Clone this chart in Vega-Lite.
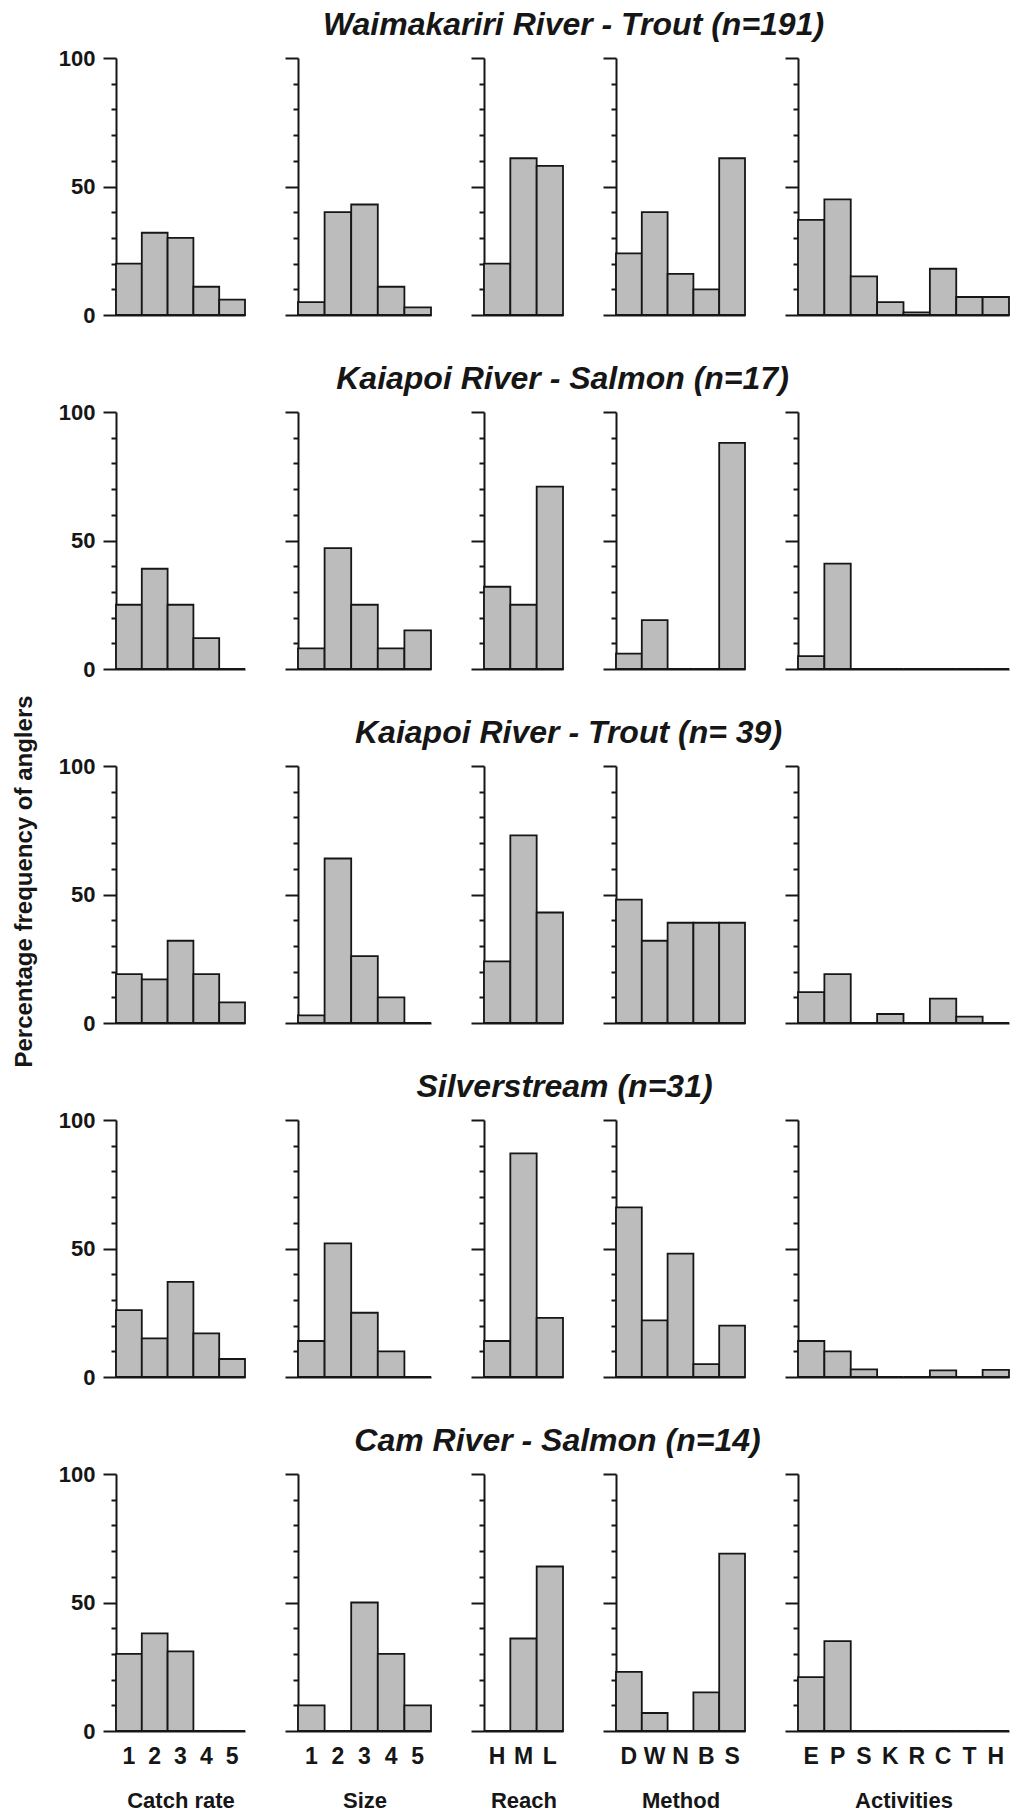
{
  "$schema": "https://vega.github.io/schema/vega-lite/v6.json",
  "background": "white",
  "padding": {"left": 12, "top": 9, "right": 2, "bottom": 2},
  "columns": 5,
  "align": "each",
  "bounds": "flush",
  "spacing": {"row": 97, "column": 53},
  "data": {"name": "freq"},
  "datasets": {
    "freq": [
      {"river": "Waimakariri", "variable": "Catch rate", "cat": "1", "pct": 20},
      {"river": "Waimakariri", "variable": "Catch rate", "cat": "2", "pct": 32},
      {"river": "Waimakariri", "variable": "Catch rate", "cat": "3", "pct": 30},
      {"river": "Waimakariri", "variable": "Catch rate", "cat": "4", "pct": 11},
      {"river": "Waimakariri", "variable": "Catch rate", "cat": "5", "pct": 6},
      {"river": "Waimakariri", "variable": "Size", "cat": "1", "pct": 5},
      {"river": "Waimakariri", "variable": "Size", "cat": "2", "pct": 40},
      {"river": "Waimakariri", "variable": "Size", "cat": "3", "pct": 43},
      {"river": "Waimakariri", "variable": "Size", "cat": "4", "pct": 11},
      {"river": "Waimakariri", "variable": "Size", "cat": "5", "pct": 3},
      {"river": "Waimakariri", "variable": "Reach", "cat": "H", "pct": 20},
      {"river": "Waimakariri", "variable": "Reach", "cat": "M", "pct": 61},
      {"river": "Waimakariri", "variable": "Reach", "cat": "L", "pct": 58},
      {"river": "Waimakariri", "variable": "Method", "cat": "D", "pct": 24},
      {"river": "Waimakariri", "variable": "Method", "cat": "W", "pct": 40},
      {"river": "Waimakariri", "variable": "Method", "cat": "N", "pct": 16},
      {"river": "Waimakariri", "variable": "Method", "cat": "B", "pct": 10},
      {"river": "Waimakariri", "variable": "Method", "cat": "S", "pct": 61},
      {"river": "Waimakariri", "variable": "Activities", "cat": "E", "pct": 37},
      {"river": "Waimakariri", "variable": "Activities", "cat": "P", "pct": 45},
      {"river": "Waimakariri", "variable": "Activities", "cat": "S", "pct": 15},
      {"river": "Waimakariri", "variable": "Activities", "cat": "K", "pct": 5},
      {"river": "Waimakariri", "variable": "Activities", "cat": "R", "pct": 1},
      {"river": "Waimakariri", "variable": "Activities", "cat": "C", "pct": 18},
      {"river": "Waimakariri", "variable": "Activities", "cat": "T", "pct": 7},
      {"river": "Waimakariri", "variable": "Activities", "cat": "H", "pct": 7},

      {"river": "Kaiapoi salmon", "variable": "Catch rate", "cat": "1", "pct": 25},
      {"river": "Kaiapoi salmon", "variable": "Catch rate", "cat": "2", "pct": 39},
      {"river": "Kaiapoi salmon", "variable": "Catch rate", "cat": "3", "pct": 25},
      {"river": "Kaiapoi salmon", "variable": "Catch rate", "cat": "4", "pct": 12},
      {"river": "Kaiapoi salmon", "variable": "Catch rate", "cat": "5", "pct": 0},
      {"river": "Kaiapoi salmon", "variable": "Size", "cat": "1", "pct": 8},
      {"river": "Kaiapoi salmon", "variable": "Size", "cat": "2", "pct": 47},
      {"river": "Kaiapoi salmon", "variable": "Size", "cat": "3", "pct": 25},
      {"river": "Kaiapoi salmon", "variable": "Size", "cat": "4", "pct": 8},
      {"river": "Kaiapoi salmon", "variable": "Size", "cat": "5", "pct": 15},
      {"river": "Kaiapoi salmon", "variable": "Reach", "cat": "H", "pct": 32},
      {"river": "Kaiapoi salmon", "variable": "Reach", "cat": "M", "pct": 25},
      {"river": "Kaiapoi salmon", "variable": "Reach", "cat": "L", "pct": 71},
      {"river": "Kaiapoi salmon", "variable": "Method", "cat": "D", "pct": 6},
      {"river": "Kaiapoi salmon", "variable": "Method", "cat": "W", "pct": 19},
      {"river": "Kaiapoi salmon", "variable": "Method", "cat": "N", "pct": 0},
      {"river": "Kaiapoi salmon", "variable": "Method", "cat": "B", "pct": 0},
      {"river": "Kaiapoi salmon", "variable": "Method", "cat": "S", "pct": 88},
      {"river": "Kaiapoi salmon", "variable": "Activities", "cat": "E", "pct": 5},
      {"river": "Kaiapoi salmon", "variable": "Activities", "cat": "P", "pct": 41},
      {"river": "Kaiapoi salmon", "variable": "Activities", "cat": "S", "pct": 0},
      {"river": "Kaiapoi salmon", "variable": "Activities", "cat": "K", "pct": 0},
      {"river": "Kaiapoi salmon", "variable": "Activities", "cat": "R", "pct": 0},
      {"river": "Kaiapoi salmon", "variable": "Activities", "cat": "C", "pct": 0},
      {"river": "Kaiapoi salmon", "variable": "Activities", "cat": "T", "pct": 0},
      {"river": "Kaiapoi salmon", "variable": "Activities", "cat": "H", "pct": 0},

      {"river": "Kaiapoi trout", "variable": "Catch rate", "cat": "1", "pct": 19},
      {"river": "Kaiapoi trout", "variable": "Catch rate", "cat": "2", "pct": 17},
      {"river": "Kaiapoi trout", "variable": "Catch rate", "cat": "3", "pct": 32},
      {"river": "Kaiapoi trout", "variable": "Catch rate", "cat": "4", "pct": 19},
      {"river": "Kaiapoi trout", "variable": "Catch rate", "cat": "5", "pct": 8},
      {"river": "Kaiapoi trout", "variable": "Size", "cat": "1", "pct": 3},
      {"river": "Kaiapoi trout", "variable": "Size", "cat": "2", "pct": 64},
      {"river": "Kaiapoi trout", "variable": "Size", "cat": "3", "pct": 26},
      {"river": "Kaiapoi trout", "variable": "Size", "cat": "4", "pct": 10},
      {"river": "Kaiapoi trout", "variable": "Size", "cat": "5", "pct": 0},
      {"river": "Kaiapoi trout", "variable": "Reach", "cat": "H", "pct": 24},
      {"river": "Kaiapoi trout", "variable": "Reach", "cat": "M", "pct": 73},
      {"river": "Kaiapoi trout", "variable": "Reach", "cat": "L", "pct": 43},
      {"river": "Kaiapoi trout", "variable": "Method", "cat": "D", "pct": 48},
      {"river": "Kaiapoi trout", "variable": "Method", "cat": "W", "pct": 32},
      {"river": "Kaiapoi trout", "variable": "Method", "cat": "N", "pct": 39},
      {"river": "Kaiapoi trout", "variable": "Method", "cat": "B", "pct": 39},
      {"river": "Kaiapoi trout", "variable": "Method", "cat": "S", "pct": 39},
      {"river": "Kaiapoi trout", "variable": "Activities", "cat": "E", "pct": 12},
      {"river": "Kaiapoi trout", "variable": "Activities", "cat": "P", "pct": 19},
      {"river": "Kaiapoi trout", "variable": "Activities", "cat": "S", "pct": 0},
      {"river": "Kaiapoi trout", "variable": "Activities", "cat": "K", "pct": 3.5},
      {"river": "Kaiapoi trout", "variable": "Activities", "cat": "R", "pct": 0},
      {"river": "Kaiapoi trout", "variable": "Activities", "cat": "C", "pct": 9.5},
      {"river": "Kaiapoi trout", "variable": "Activities", "cat": "T", "pct": 2.5},
      {"river": "Kaiapoi trout", "variable": "Activities", "cat": "H", "pct": 0},

      {"river": "Silverstream", "variable": "Catch rate", "cat": "1", "pct": 26},
      {"river": "Silverstream", "variable": "Catch rate", "cat": "2", "pct": 15},
      {"river": "Silverstream", "variable": "Catch rate", "cat": "3", "pct": 37},
      {"river": "Silverstream", "variable": "Catch rate", "cat": "4", "pct": 17},
      {"river": "Silverstream", "variable": "Catch rate", "cat": "5", "pct": 7},
      {"river": "Silverstream", "variable": "Size", "cat": "1", "pct": 14},
      {"river": "Silverstream", "variable": "Size", "cat": "2", "pct": 52},
      {"river": "Silverstream", "variable": "Size", "cat": "3", "pct": 25},
      {"river": "Silverstream", "variable": "Size", "cat": "4", "pct": 10},
      {"river": "Silverstream", "variable": "Size", "cat": "5", "pct": 0},
      {"river": "Silverstream", "variable": "Reach", "cat": "H", "pct": 14},
      {"river": "Silverstream", "variable": "Reach", "cat": "M", "pct": 87},
      {"river": "Silverstream", "variable": "Reach", "cat": "L", "pct": 23},
      {"river": "Silverstream", "variable": "Method", "cat": "D", "pct": 66},
      {"river": "Silverstream", "variable": "Method", "cat": "W", "pct": 22},
      {"river": "Silverstream", "variable": "Method", "cat": "N", "pct": 48},
      {"river": "Silverstream", "variable": "Method", "cat": "B", "pct": 5},
      {"river": "Silverstream", "variable": "Method", "cat": "S", "pct": 20},
      {"river": "Silverstream", "variable": "Activities", "cat": "E", "pct": 14},
      {"river": "Silverstream", "variable": "Activities", "cat": "P", "pct": 10},
      {"river": "Silverstream", "variable": "Activities", "cat": "S", "pct": 3},
      {"river": "Silverstream", "variable": "Activities", "cat": "K", "pct": 0},
      {"river": "Silverstream", "variable": "Activities", "cat": "R", "pct": 0},
      {"river": "Silverstream", "variable": "Activities", "cat": "C", "pct": 2.6},
      {"river": "Silverstream", "variable": "Activities", "cat": "T", "pct": 0},
      {"river": "Silverstream", "variable": "Activities", "cat": "H", "pct": 2.8},

      {"river": "Cam salmon", "variable": "Catch rate", "cat": "1", "pct": 30},
      {"river": "Cam salmon", "variable": "Catch rate", "cat": "2", "pct": 38},
      {"river": "Cam salmon", "variable": "Catch rate", "cat": "3", "pct": 31},
      {"river": "Cam salmon", "variable": "Catch rate", "cat": "4", "pct": 0},
      {"river": "Cam salmon", "variable": "Catch rate", "cat": "5", "pct": 0},
      {"river": "Cam salmon", "variable": "Size", "cat": "1", "pct": 10},
      {"river": "Cam salmon", "variable": "Size", "cat": "2", "pct": 0},
      {"river": "Cam salmon", "variable": "Size", "cat": "3", "pct": 50},
      {"river": "Cam salmon", "variable": "Size", "cat": "4", "pct": 30},
      {"river": "Cam salmon", "variable": "Size", "cat": "5", "pct": 10},
      {"river": "Cam salmon", "variable": "Reach", "cat": "H", "pct": 0},
      {"river": "Cam salmon", "variable": "Reach", "cat": "M", "pct": 36},
      {"river": "Cam salmon", "variable": "Reach", "cat": "L", "pct": 64},
      {"river": "Cam salmon", "variable": "Method", "cat": "D", "pct": 23},
      {"river": "Cam salmon", "variable": "Method", "cat": "W", "pct": 7},
      {"river": "Cam salmon", "variable": "Method", "cat": "N", "pct": 0},
      {"river": "Cam salmon", "variable": "Method", "cat": "B", "pct": 15},
      {"river": "Cam salmon", "variable": "Method", "cat": "S", "pct": 69},
      {"river": "Cam salmon", "variable": "Activities", "cat": "E", "pct": 21},
      {"river": "Cam salmon", "variable": "Activities", "cat": "P", "pct": 35},
      {"river": "Cam salmon", "variable": "Activities", "cat": "S", "pct": 0},
      {"river": "Cam salmon", "variable": "Activities", "cat": "K", "pct": 0},
      {"river": "Cam salmon", "variable": "Activities", "cat": "R", "pct": 0},
      {"river": "Cam salmon", "variable": "Activities", "cat": "C", "pct": 0},
      {"river": "Cam salmon", "variable": "Activities", "cat": "T", "pct": 0},
      {"river": "Cam salmon", "variable": "Activities", "cat": "H", "pct": 0}
    ]
  },
  "concat": [
    {"transform": [{"filter": "datum.river === 'Waimakariri' && datum.variable === 'Catch rate'"}], "width": 129, "height": 257, "mark": "bar",
     "encoding": {"x": {"field": "cat", "type": "nominal", "scale": {"domain": ["1","2","3","4","5"]}, "axis": {"labels": false, "title": null}},
                  "y": {"field": "pct", "type": "quantitative", "scale": {"domain": [0, 100]}, "axis": {"values": [0,10,20,30,40,50,60,70,80,90,100], "title": null, "tickSize": {"condition": {"test": "datum.value % 50 === 0", "value": 13}, "value": 5}, "labelExpr": "datum.value % 50 === 0 ? datum.label : ''"}}}},
    {"transform": [{"filter": "datum.river === 'Waimakariri' && datum.variable === 'Size'"}], "width": 133, "height": 257, "mark": "bar",
     "encoding": {"x": {"field": "cat", "type": "nominal", "scale": {"domain": ["1","2","3","4","5"]}, "axis": {"labels": false, "title": null}},
                  "y": {"field": "pct", "type": "quantitative", "scale": {"domain": [0, 100]}, "axis": {"values": [0,10,20,30,40,50,60,70,80,90,100], "title": null, "labels": false, "tickSize": {"condition": {"test": "datum.value % 50 === 0", "value": 13}, "value": 5}}}}},
    {"title": {"text": "Waimakariri River - Trout (n=191)", "dx": 50},
     "transform": [{"filter": "datum.river === 'Waimakariri' && datum.variable === 'Reach'"}], "width": 79, "height": 257, "mark": "bar",
     "encoding": {"x": {"field": "cat", "type": "nominal", "scale": {"domain": ["H","M","L"]}, "axis": {"labels": false, "title": null}},
                  "y": {"field": "pct", "type": "quantitative", "scale": {"domain": [0, 100]}, "axis": {"values": [0,10,20,30,40,50,60,70,80,90,100], "title": null, "labels": false, "tickSize": {"condition": {"test": "datum.value % 50 === 0", "value": 13}, "value": 5}}}}},
    {"transform": [{"filter": "datum.river === 'Waimakariri' && datum.variable === 'Method'"}], "width": 129, "height": 257, "mark": "bar",
     "encoding": {"x": {"field": "cat", "type": "nominal", "scale": {"domain": ["D","W","N","B","S"]}, "axis": {"labels": false, "title": null}},
                  "y": {"field": "pct", "type": "quantitative", "scale": {"domain": [0, 100]}, "axis": {"values": [0,10,20,30,40,50,60,70,80,90,100], "title": null, "labels": false, "tickSize": {"condition": {"test": "datum.value % 50 === 0", "value": 13}, "value": 5}}}}},
    {"transform": [{"filter": "datum.river === 'Waimakariri' && datum.variable === 'Activities'"}], "width": 211, "height": 257, "mark": "bar",
     "encoding": {"x": {"field": "cat", "type": "nominal", "scale": {"domain": ["E","P","S","K","R","C","T","H"]}, "axis": {"labels": false, "title": null}},
                  "y": {"field": "pct", "type": "quantitative", "scale": {"domain": [0, 100]}, "axis": {"values": [0,10,20,30,40,50,60,70,80,90,100], "title": null, "labels": false, "tickSize": {"condition": {"test": "datum.value % 50 === 0", "value": 13}, "value": 5}}}}},

    {"transform": [{"filter": "datum.river === 'Kaiapoi salmon' && datum.variable === 'Catch rate'"}], "width": 129, "height": 257, "mark": "bar",
     "encoding": {"x": {"field": "cat", "type": "nominal", "scale": {"domain": ["1","2","3","4","5"]}, "axis": {"labels": false, "title": null}},
                  "y": {"field": "pct", "type": "quantitative", "scale": {"domain": [0, 100]}, "axis": {"values": [0,10,20,30,40,50,60,70,80,90,100], "title": null, "tickSize": {"condition": {"test": "datum.value % 50 === 0", "value": 13}, "value": 5}, "labelExpr": "datum.value % 50 === 0 ? datum.label : ''"}}}},
    {"transform": [{"filter": "datum.river === 'Kaiapoi salmon' && datum.variable === 'Size'"}], "width": 133, "height": 257, "mark": "bar",
     "encoding": {"x": {"field": "cat", "type": "nominal", "scale": {"domain": ["1","2","3","4","5"]}, "axis": {"labels": false, "title": null}},
                  "y": {"field": "pct", "type": "quantitative", "scale": {"domain": [0, 100]}, "axis": {"values": [0,10,20,30,40,50,60,70,80,90,100], "title": null, "labels": false, "tickSize": {"condition": {"test": "datum.value % 50 === 0", "value": 13}, "value": 5}}}}},
    {"title": {"text": "Kaiapoi River - Salmon (n=17)", "dx": 39},
     "transform": [{"filter": "datum.river === 'Kaiapoi salmon' && datum.variable === 'Reach'"}], "width": 79, "height": 257, "mark": "bar",
     "encoding": {"x": {"field": "cat", "type": "nominal", "scale": {"domain": ["H","M","L"]}, "axis": {"labels": false, "title": null}},
                  "y": {"field": "pct", "type": "quantitative", "scale": {"domain": [0, 100]}, "axis": {"values": [0,10,20,30,40,50,60,70,80,90,100], "title": null, "labels": false, "tickSize": {"condition": {"test": "datum.value % 50 === 0", "value": 13}, "value": 5}}}}},
    {"transform": [{"filter": "datum.river === 'Kaiapoi salmon' && datum.variable === 'Method'"}], "width": 129, "height": 257, "mark": "bar",
     "encoding": {"x": {"field": "cat", "type": "nominal", "scale": {"domain": ["D","W","N","B","S"]}, "axis": {"labels": false, "title": null}},
                  "y": {"field": "pct", "type": "quantitative", "scale": {"domain": [0, 100]}, "axis": {"values": [0,10,20,30,40,50,60,70,80,90,100], "title": null, "labels": false, "tickSize": {"condition": {"test": "datum.value % 50 === 0", "value": 13}, "value": 5}}}}},
    {"transform": [{"filter": "datum.river === 'Kaiapoi salmon' && datum.variable === 'Activities'"}], "width": 211, "height": 257, "mark": "bar",
     "encoding": {"x": {"field": "cat", "type": "nominal", "scale": {"domain": ["E","P","S","K","R","C","T","H"]}, "axis": {"labels": false, "title": null}},
                  "y": {"field": "pct", "type": "quantitative", "scale": {"domain": [0, 100]}, "axis": {"values": [0,10,20,30,40,50,60,70,80,90,100], "title": null, "labels": false, "tickSize": {"condition": {"test": "datum.value % 50 === 0", "value": 13}, "value": 5}}}}},

    {"transform": [{"filter": "datum.river === 'Kaiapoi trout' && datum.variable === 'Catch rate'"}], "width": 129, "height": 257, "mark": "bar",
     "encoding": {"x": {"field": "cat", "type": "nominal", "scale": {"domain": ["1","2","3","4","5"]}, "axis": {"labels": false, "title": null}},
                  "y": {"field": "pct", "type": "quantitative", "scale": {"domain": [0, 100]}, "axis": {"values": [0,10,20,30,40,50,60,70,80,90,100], "title": "Percentage frequency of anglers", "titleFontSize": 24, "titlePadding": 22, "titleY": 115, "tickSize": {"condition": {"test": "datum.value % 50 === 0", "value": 13}, "value": 5}, "labelExpr": "datum.value % 50 === 0 ? datum.label : ''"}}}},
    {"transform": [{"filter": "datum.river === 'Kaiapoi trout' && datum.variable === 'Size'"}], "width": 133, "height": 257, "mark": "bar",
     "encoding": {"x": {"field": "cat", "type": "nominal", "scale": {"domain": ["1","2","3","4","5"]}, "axis": {"labels": false, "title": null}},
                  "y": {"field": "pct", "type": "quantitative", "scale": {"domain": [0, 100]}, "axis": {"values": [0,10,20,30,40,50,60,70,80,90,100], "title": null, "labels": false, "tickSize": {"condition": {"test": "datum.value % 50 === 0", "value": 13}, "value": 5}}}}},
    {"title": {"text": "Kaiapoi River - Trout (n= 39)", "dx": 45},
     "transform": [{"filter": "datum.river === 'Kaiapoi trout' && datum.variable === 'Reach'"}], "width": 79, "height": 257, "mark": "bar",
     "encoding": {"x": {"field": "cat", "type": "nominal", "scale": {"domain": ["H","M","L"]}, "axis": {"labels": false, "title": null}},
                  "y": {"field": "pct", "type": "quantitative", "scale": {"domain": [0, 100]}, "axis": {"values": [0,10,20,30,40,50,60,70,80,90,100], "title": null, "labels": false, "tickSize": {"condition": {"test": "datum.value % 50 === 0", "value": 13}, "value": 5}}}}},
    {"transform": [{"filter": "datum.river === 'Kaiapoi trout' && datum.variable === 'Method'"}], "width": 129, "height": 257, "mark": "bar",
     "encoding": {"x": {"field": "cat", "type": "nominal", "scale": {"domain": ["D","W","N","B","S"]}, "axis": {"labels": false, "title": null}},
                  "y": {"field": "pct", "type": "quantitative", "scale": {"domain": [0, 100]}, "axis": {"values": [0,10,20,30,40,50,60,70,80,90,100], "title": null, "labels": false, "tickSize": {"condition": {"test": "datum.value % 50 === 0", "value": 13}, "value": 5}}}}},
    {"transform": [{"filter": "datum.river === 'Kaiapoi trout' && datum.variable === 'Activities'"}], "width": 211, "height": 257, "mark": "bar",
     "encoding": {"x": {"field": "cat", "type": "nominal", "scale": {"domain": ["E","P","S","K","R","C","T","H"]}, "axis": {"labels": false, "title": null}},
                  "y": {"field": "pct", "type": "quantitative", "scale": {"domain": [0, 100]}, "axis": {"values": [0,10,20,30,40,50,60,70,80,90,100], "title": null, "labels": false, "tickSize": {"condition": {"test": "datum.value % 50 === 0", "value": 13}, "value": 5}}}}},

    {"transform": [{"filter": "datum.river === 'Silverstream' && datum.variable === 'Catch rate'"}], "width": 129, "height": 257, "mark": "bar",
     "encoding": {"x": {"field": "cat", "type": "nominal", "scale": {"domain": ["1","2","3","4","5"]}, "axis": {"labels": false, "title": null}},
                  "y": {"field": "pct", "type": "quantitative", "scale": {"domain": [0, 100]}, "axis": {"values": [0,10,20,30,40,50,60,70,80,90,100], "title": null, "tickSize": {"condition": {"test": "datum.value % 50 === 0", "value": 13}, "value": 5}, "labelExpr": "datum.value % 50 === 0 ? datum.label : ''"}}}},
    {"transform": [{"filter": "datum.river === 'Silverstream' && datum.variable === 'Size'"}], "width": 133, "height": 257, "mark": "bar",
     "encoding": {"x": {"field": "cat", "type": "nominal", "scale": {"domain": ["1","2","3","4","5"]}, "axis": {"labels": false, "title": null}},
                  "y": {"field": "pct", "type": "quantitative", "scale": {"domain": [0, 100]}, "axis": {"values": [0,10,20,30,40,50,60,70,80,90,100], "title": null, "labels": false, "tickSize": {"condition": {"test": "datum.value % 50 === 0", "value": 13}, "value": 5}}}}},
    {"title": {"text": "Silverstream (n=31)", "dx": 41},
     "transform": [{"filter": "datum.river === 'Silverstream' && datum.variable === 'Reach'"}], "width": 79, "height": 257, "mark": "bar",
     "encoding": {"x": {"field": "cat", "type": "nominal", "scale": {"domain": ["H","M","L"]}, "axis": {"labels": false, "title": null}},
                  "y": {"field": "pct", "type": "quantitative", "scale": {"domain": [0, 100]}, "axis": {"values": [0,10,20,30,40,50,60,70,80,90,100], "title": null, "labels": false, "tickSize": {"condition": {"test": "datum.value % 50 === 0", "value": 13}, "value": 5}}}}},
    {"transform": [{"filter": "datum.river === 'Silverstream' && datum.variable === 'Method'"}], "width": 129, "height": 257, "mark": "bar",
     "encoding": {"x": {"field": "cat", "type": "nominal", "scale": {"domain": ["D","W","N","B","S"]}, "axis": {"labels": false, "title": null}},
                  "y": {"field": "pct", "type": "quantitative", "scale": {"domain": [0, 100]}, "axis": {"values": [0,10,20,30,40,50,60,70,80,90,100], "title": null, "labels": false, "tickSize": {"condition": {"test": "datum.value % 50 === 0", "value": 13}, "value": 5}}}}},
    {"transform": [{"filter": "datum.river === 'Silverstream' && datum.variable === 'Activities'"}], "width": 211, "height": 257, "mark": "bar",
     "encoding": {"x": {"field": "cat", "type": "nominal", "scale": {"domain": ["E","P","S","K","R","C","T","H"]}, "axis": {"labels": false, "title": null}},
                  "y": {"field": "pct", "type": "quantitative", "scale": {"domain": [0, 100]}, "axis": {"values": [0,10,20,30,40,50,60,70,80,90,100], "title": null, "labels": false, "tickSize": {"condition": {"test": "datum.value % 50 === 0", "value": 13}, "value": 5}}}}},

    {"transform": [{"filter": "datum.river === 'Cam salmon' && datum.variable === 'Catch rate'"}], "width": 129, "height": 257, "mark": "bar",
     "encoding": {"x": {"field": "cat", "type": "nominal", "scale": {"domain": ["1","2","3","4","5"]}, "axis": {"title": "Catch rate"}},
                  "y": {"field": "pct", "type": "quantitative", "scale": {"domain": [0, 100]}, "axis": {"values": [0,10,20,30,40,50,60,70,80,90,100], "title": null, "tickSize": {"condition": {"test": "datum.value % 50 === 0", "value": 13}, "value": 5}, "labelExpr": "datum.value % 50 === 0 ? datum.label : ''"}}}},
    {"transform": [{"filter": "datum.river === 'Cam salmon' && datum.variable === 'Size'"}], "width": 133, "height": 257, "mark": "bar",
     "encoding": {"x": {"field": "cat", "type": "nominal", "scale": {"domain": ["1","2","3","4","5"]}, "axis": {"title": "Size"}},
                  "y": {"field": "pct", "type": "quantitative", "scale": {"domain": [0, 100]}, "axis": {"values": [0,10,20,30,40,50,60,70,80,90,100], "title": null, "labels": false, "tickSize": {"condition": {"test": "datum.value % 50 === 0", "value": 13}, "value": 5}}}}},
    {"title": {"text": "Cam River - Salmon (n=14)", "dx": 34},
     "transform": [{"filter": "datum.river === 'Cam salmon' && datum.variable === 'Reach'"}], "width": 79, "height": 257, "mark": "bar",
     "encoding": {"x": {"field": "cat", "type": "nominal", "scale": {"domain": ["H","M","L"]}, "axis": {"title": "Reach"}},
                  "y": {"field": "pct", "type": "quantitative", "scale": {"domain": [0, 100]}, "axis": {"values": [0,10,20,30,40,50,60,70,80,90,100], "title": null, "labels": false, "tickSize": {"condition": {"test": "datum.value % 50 === 0", "value": 13}, "value": 5}}}}},
    {"transform": [{"filter": "datum.river === 'Cam salmon' && datum.variable === 'Method'"}], "width": 129, "height": 257, "mark": "bar",
     "encoding": {"x": {"field": "cat", "type": "nominal", "scale": {"domain": ["D","W","N","B","S"]}, "axis": {"title": "Method"}},
                  "y": {"field": "pct", "type": "quantitative", "scale": {"domain": [0, 100]}, "axis": {"values": [0,10,20,30,40,50,60,70,80,90,100], "title": null, "labels": false, "tickSize": {"condition": {"test": "datum.value % 50 === 0", "value": 13}, "value": 5}}}}},
    {"transform": [{"filter": "datum.river === 'Cam salmon' && datum.variable === 'Activities'"}], "width": 211, "height": 257, "mark": "bar",
     "encoding": {"x": {"field": "cat", "type": "nominal", "scale": {"domain": ["E","P","S","K","R","C","T","H"]}, "axis": {"title": "Activities"}},
                  "y": {"field": "pct", "type": "quantitative", "scale": {"domain": [0, 100]}, "axis": {"values": [0,10,20,30,40,50,60,70,80,90,100], "title": null, "labels": false, "tickSize": {"condition": {"test": "datum.value % 50 === 0", "value": 13}, "value": 5}}}}}
  ],
  "config": {
    "view": {"stroke": null},
    "font": "Liberation Sans",
    "bar": {"fill": "#bcbcbc", "stroke": "#161616", "strokeWidth": 1.8},
    "scale": {"barBandPaddingInner": 0, "bandPaddingOuter": 0},
    "axis": {
      "grid": false,
      "domainColor": "#161616", "domainWidth": 2,
      "tickColor": "#161616", "tickWidth": 2,
      "labelFont": "Liberation Sans", "labelFontWeight": "bold", "labelColor": "#161616",
      "titleFont": "Liberation Sans", "titleFontWeight": "bold", "titleColor": "#161616"
    },
    "axisX": {"ticks": false, "labelAngle": 0, "labelFontSize": 23, "labelPadding": 14, "titleFontSize": 22, "titlePadding": 22},
    "axisY": {"labelFontSize": 22, "labelPadding": 8},
    "title": {"font": "Liberation Sans", "fontSize": 32, "fontWeight": "bold", "fontStyle": "italic", "color": "#161616", "anchor": "middle", "frame": "group", "offset": 15}
  }
}
